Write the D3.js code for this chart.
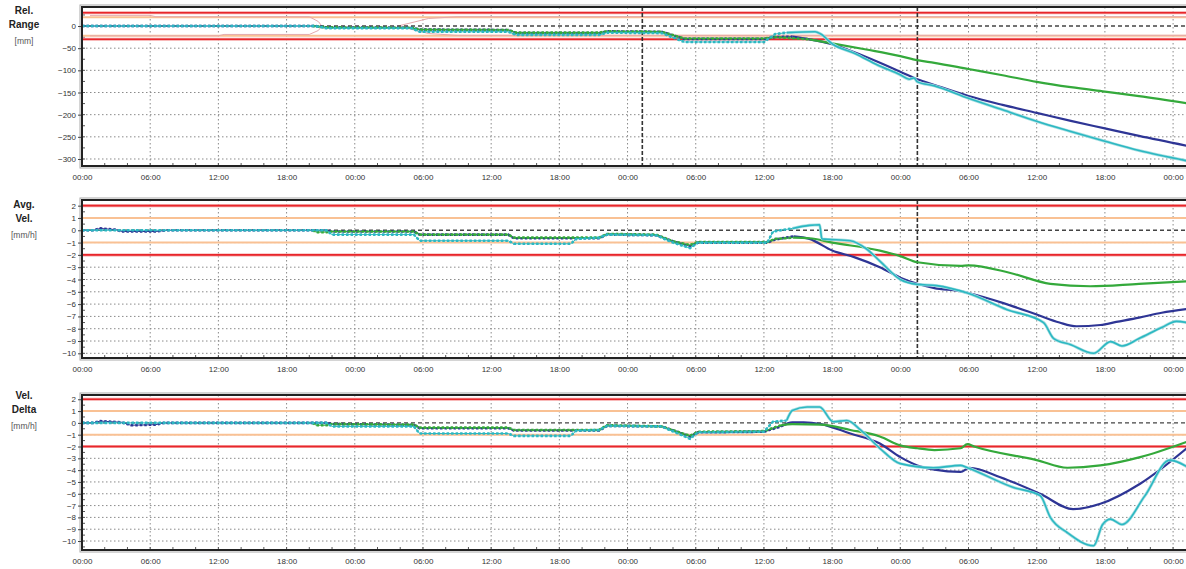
<!DOCTYPE html>
<html>
<head>
<meta charset="utf-8">
<script src="https://cdn.jsdelivr.net/npm/d3@7"></script>
<style>
  body { margin: 0; background: #fff; }
  text { font-family: "Liberation Sans", Arial, sans-serif; }
</style>
</head>
<body>
<div id="chart"></div>
<script>
// Chart size
var svgWidth = 1186;
var svgHeight = 569;

// Time axis, hours since the first 00:00
var hourTicks = d3.range(0, 97, 6);
var minorHourTicks = d3.range(0, 98, 2);
var markers = [49.3, 73.5];

// Rel. Range [mm] - [hour, value]
var rangeBlue = [[0,0],[20.5,0],[21.5,-3],[29,-4],[29.7,-8],[37.5,-9],[38.2,-16],[45.5,-16],[46.2,-12],[51,-13],[53,-29],[60,-29],[61,-25],[62.5,-24],[64,-30],[66,-41],[69,-70],[72,-103],[73.5,-120],[75,-133],[78,-158],[81,-178],[84,-196],[87,-214],[90,-231],[93,-248],[97.2,-270]];
var rangeCyan = [[0,0],[20.5,0],[21.5,-5],[29,-5],[29.7,-13],[37.5,-13],[38.2,-20],[45.5,-20],[46.2,-15],[51,-16],[53,-36],[60,-36],[61,-18],[62,-15],[64.5,-13],[65,-18],[66,-40],[68,-62],[70,-88],[72,-110],[72.8,-120],[73.2,-117],[73.5,-126],[75,-135],[78,-163],[81,-189],[84,-215],[87,-238],[90,-260],[93,-281],[97.2,-304]];
var rangeGreen = [[20.3,0],[21.5,-3],[29,-4],[29.7,-8],[37.5,-9],[38.2,-15],[45.5,-15],[46.2,-12],[51,-13],[53,-28],[60,-28],[61,-25],[64,-30],[66,-39],[69,-53],[72,-68],[73.5,-77],[75,-83],[78,-97],[81,-111],[84,-126],[87,-138],[90,-148],[93,-158],[97.2,-174]];
var rangeEnvUpper = [[[0.7,24],[6,24],[6.5,21],[20,21],[20.8,10],[21.1,0]], [[27.8,0],[30.5,17],[33,21],[97.2,21]]];
var rangeEnvLower = [[[0.7,-22],[12,-22],[12.5,-19],[20,-19],[20.8,-10],[21.1,0]], [[27.8,0],[30.5,-17],[33,-21],[97.2,-21]]];

// Avg. Vel. [mm/h]
var velBlue = [[0,0],[1,0],[1.6,0.15],[3,0.05],[3.5,-0.1],[6.5,-0.1],[7.5,0],[21.5,0],[22,-0.1],[29.2,-0.1],[29.7,-0.35],[37.5,-0.35],[38,-0.65],[45.5,-0.65],[46.2,-0.35],[50.5,-0.4],[52,-0.9],[53.5,-1.3],[54.2,-1.0],[60.3,-1.0],[61,-0.75],[62.6,-0.5],[64,-0.7],[66,-1.65],[68,-2.2],[70.2,-3.0],[72,-3.85],[73.5,-4.35],[75,-4.7],[77.3,-4.95],[78,-5.1],[81,-5.9],[84,-6.85],[86,-7.5],[87.5,-7.8],[89.6,-7.7],[91,-7.45],[93,-7.1],[95,-6.7],[97.2,-6.4]];
var velCyan = [[0,0],[21.5,0],[22,-0.35],[29.2,-0.35],[29.7,-0.85],[37.5,-0.85],[38,-1.1],[43,-1.1],[43.5,-0.7],[45.5,-0.6],[46.2,-0.35],[50.5,-0.4],[52,-1.0],[53.5,-1.45],[54.2,-1.0],[60.3,-1.0],[60.8,-0.1],[62.5,0.15],[64,0.4],[64.9,0.45],[65.1,-0.7],[67.6,-0.85],[69,-1.5],[70.2,-2.5],[72,-4.0],[73.5,-4.4],[75.2,-4.5],[77.9,-5.1],[81.4,-6.45],[84.6,-7.5],[85.5,-8.8],[87,-9.3],[89,-10],[90.5,-9.05],[91.5,-9.4],[93,-8.8],[95,-7.9],[96.3,-7.4],[97.2,-7.5]];
var velGreen = [[20.3,0],[20.6,-0.15],[21.5,-0.15],[22,-0.1],[29.2,-0.1],[29.7,-0.35],[37.5,-0.35],[38,-0.6],[45.5,-0.6],[46.2,-0.3],[50.5,-0.35],[52,-0.9],[53.5,-1.2],[54.2,-0.95],[60.3,-0.95],[61,-0.7],[62.6,-0.6],[64,-0.65],[66,-1.0],[70.2,-1.65],[72,-2.1],[73.5,-2.6],[77.3,-2.9],[78,-2.85],[81.6,-3.45],[85.2,-4.35],[88.7,-4.55],[93,-4.35],[97.2,-4.15]];

// Vel. Delta [mm/h]
var deltaBlue = [[0,0],[1,0],[1.6,0.15],[3.5,0.05],[4.3,-0.2],[6.5,-0.15],[7.2,0],[21.5,0],[22,-0.1],[29.2,-0.17],[29.7,-0.45],[37.5,-0.45],[38,-0.65],[45.5,-0.65],[46.2,-0.25],[51,-0.3],[53.5,-1.15],[54.2,-0.8],[60,-0.75],[61.5,-0.3],[62.5,0.05],[63.5,0.05],[65,-0.1],[67.6,-0.9],[70.2,-1.75],[72,-2.9],[73.5,-3.6],[75,-3.95],[77.3,-4.15],[78.1,-3.8],[80.8,-4.6],[84.3,-6.0],[87.2,-7.3],[89.6,-6.85],[93.1,-5.15],[97.2,-2.15]];
var deltaCyan = [[0,0],[21.5,0],[22,-0.3],[29.2,-0.3],[29.7,-0.9],[37.5,-0.9],[38,-1.1],[43,-1.1],[43.5,-0.65],[45.5,-0.6],[46.2,-0.25],[51,-0.3],[53.5,-1.35],[54.2,-0.8],[60,-0.75],[60.8,0.1],[62,0.2],[62.5,1.05],[63.8,1.35],[64.9,1.35],[66.1,0.1],[67.3,0.2],[68.5,-0.6],[70.2,-2.15],[72,-3.45],[74.9,-3.8],[77.3,-3.6],[77.9,-3.8],[81.9,-5.45],[84.3,-6.15],[85.2,-8.0],[86.7,-9.3],[89,-10.4],[89.8,-8.6],[90.5,-8.15],[91.5,-8.6],[93.5,-6.2],[95.7,-3.15],[97.2,-3.7]];
var deltaGreen = [[20.3,0],[20.6,-0.2],[21.5,-0.2],[22,-0.1],[29.2,-0.15],[29.7,-0.4],[37.5,-0.4],[38,-0.6],[45.5,-0.6],[46.2,-0.2],[51,-0.3],[53.5,-1.1],[54.2,-0.75],[60,-0.7],[61.5,-0.2],[62.5,-0.1],[65,-0.15],[67.6,-0.6],[70.2,-1.15],[72,-1.9],[73.5,-2.15],[75,-2.3],[77.3,-2.15],[77.9,-1.8],[78.5,-2.0],[84,-3.15],[86.7,-3.8],[89.6,-3.6],[93.1,-2.9],[97.2,-1.6]];

// Y ticks and limits
var rangeTicks = [0, -50, -100, -150, -200, -250, -300];
var velTicks = d3.range(2, -11, -1);
var rangeAlarm = [30, -30];
var rangeWarn = [20, -22];
var velAlarm = [2, -2];
var velWarn = [1, -1];

var colors = { blue: "#2e3595", cyan: "#2cb8c2", green: "#34a93b" };

// Panels
var panels = [
  { title: ["Rel.", "Range"], unit: "[mm]", top: 7, bottom: 166, labelY: 14, domain: [-315.8, 42.9], ticks: rangeTicks, minor: 25,
    blue: rangeBlue, cyan: rangeCyan, green: rangeGreen, alarm: rangeAlarm, warn: rangeWarn, markers: markers, env: true },
  { title: ["Avg.", "Vel."], unit: "[mm/h]", top: 200, bottom: 358, labelY: 208, domain: [-10.38, 2.46], ticks: velTicks, minor: 0.5,
    blue: velBlue, cyan: velCyan, green: velGreen, alarm: velAlarm, warn: velWarn, markers: [markers[1]] },
  { title: ["Vel.", "Delta"], unit: "[mm/h]", top: 395, bottom: 550, labelY: 399, domain: [-10.76, 2.36], ticks: velTicks, minor: 0.5,
    blue: deltaBlue, cyan: deltaCyan, green: deltaGreen, alarm: velAlarm, warn: velWarn, markers: [] }
];

var plotLeft = 82;
var plotRight = 1189;

var svg = d3.select("#chart")
  .append("svg")
  .attr("width", svgWidth)
  .attr("height", svgHeight);

var x = d3.scaleLinear().domain([0, 97.4]).range([plotLeft, plotRight]);

function fmtHour(h) {
  return d3.format("02")(h % 24) + ":00";
}

panels.forEach(function(p, i) {
  var y = d3.scaleLinear().domain(p.domain).range([p.bottom, p.top]);
  var g = svg.append("g");

  // clip to plot area
  var clipId = "clip" + i;
  svg.append("clipPath").attr("id", clipId)
    .append("rect")
    .attr("x", plotLeft).attr("y", p.top)
    .attr("width", plotRight - plotLeft).attr("height", p.bottom - p.top);

  // title on the left
  p.title.forEach(function(t, k) {
    g.append("text")
      .attr("x", 24).attr("y", p.labelY + k * 14)
      .attr("text-anchor", "middle")
      .style("font-size", "10px").style("font-weight", "bold").style("fill", "#222")
      .text(t);
  });
  g.append("text")
    .attr("x", 24).attr("y", p.labelY + 30)
    .attr("text-anchor", "middle")
    .style("font-size", "8.5px").style("fill", "#555")
    .text(p.unit);

  var plot = g.append("g").attr("clip-path", "url(#" + clipId + ")");

  // dotted grid
  plot.selectAll(".vgrid").data(hourTicks).enter().append("line")
    .attr("x1", d => x(d)).attr("x2", d => x(d))
    .attr("y1", p.top).attr("y2", p.bottom)
    .attr("stroke", "#8a8a8a").attr("stroke-width", 1).attr("stroke-dasharray", "1.5,2.5");
  plot.selectAll(".hgrid").data(p.ticks.filter(d => d !== 0)).enter().append("line")
    .attr("x1", plotLeft).attr("x2", plotRight)
    .attr("y1", d => y(d)).attr("y2", d => y(d))
    .attr("stroke", "#8a8a8a").attr("stroke-width", 1).attr("stroke-dasharray", "1.5,2.5");

  // minor ticks inside the frame
  plot.selectAll(".mx").data(minorHourTicks).enter().append("line")
    .attr("x1", d => x(d)).attr("x2", d => x(d))
    .attr("y1", p.bottom - 3).attr("y2", p.bottom)
    .attr("stroke", "#555");
  var yMinor = d3.range(Math.ceil(p.domain[0] / p.minor) * p.minor, p.domain[1], p.minor);
  plot.selectAll(".my").data(yMinor).enter().append("line")
    .attr("x1", plotLeft).attr("x2", plotLeft + 3)
    .attr("y1", d => y(d)).attr("y2", d => y(d))
    .attr("stroke", "#555");

  // limit lines
  p.warn.forEach(function(v) {
    plot.append("line")
      .attr("x1", plotLeft).attr("x2", plotRight).attr("y1", y(v)).attr("y2", y(v))
      .attr("stroke", "#f9c194").attr("stroke-width", 2);
  });
  p.alarm.forEach(function(v) {
    plot.append("line")
      .attr("x1", plotLeft).attr("x2", plotRight).attr("y1", y(v)).attr("y2", y(v))
      .attr("stroke", "#f6a3a3").attr("stroke-width", 3);
    plot.append("line")
      .attr("x1", plotLeft).attr("x2", plotRight).attr("y1", y(v)).attr("y2", y(v))
      .attr("stroke", "#e8262b").attr("stroke-width", 1.6);
  });

  var line = d3.line().x(d => x(d[0])).y(d => y(d[1]));
  var smooth = d3.line().x(d => x(d[0])).y(d => y(d[1])).curve(d3.curveMonotoneX);

  // envelope of the warning band (top panel only)
  if (p.env) {
    rangeEnvUpper.concat(rangeEnvLower).forEach(function(seg) {
      plot.append("path").datum(seg).attr("d", line)
        .attr("fill", "none").attr("stroke", "#e4a9ad").attr("stroke-width", 1);
    });
  }

  // zero line
  plot.append("line")
    .attr("x1", plotLeft).attr("x2", plotRight).attr("y1", y(0)).attr("y2", y(0))
    .attr("stroke", "#444").attr("stroke-width", 1.3).attr("stroke-dasharray", "4,3");

  // event markers
  p.markers.forEach(function(h) {
    plot.append("line")
      .attr("x1", x(h)).attr("x2", x(h)).attr("y1", p.top).attr("y2", p.bottom)
      .attr("stroke", "#333").attr("stroke-width", 1.6).attr("stroke-dasharray", "4,2");
  });

  // series: sparse early part looks dotted, dense late part solid
  ["blue", "green", "cyan"].forEach(function(key) {
    var pts = p[key];
    var cut = pts.findIndex(d => d[0] > 61);
    var early = pts.slice(0, cut + 1);
    var late = pts.slice(cut);
    plot.append("path").datum(early).attr("d", line)
      .attr("fill", "none").attr("stroke", colors[key]).attr("stroke-width", 1);
    plot.append("path").datum(early).attr("d", line)
      .attr("fill", "none").attr("stroke", colors[key]).attr("stroke-width", 2.6)
      .attr("stroke-dasharray", "2.5,2");
    if (key === "cyan") {
      plot.append("path").datum(late).attr("d", smooth)
        .attr("fill", "none").attr("stroke", "#a8dfe2").attr("stroke-width", 3);
    }
    plot.append("path").datum(late).attr("d", smooth)
      .attr("fill", "none").attr("stroke", colors[key]).attr("stroke-width", key === "cyan" ? 1.6 : 2.2);
  });

  // frame
  g.append("rect")
    .attr("x", plotLeft - 2).attr("y", p.top - 2)
    .attr("width", plotRight - plotLeft + 4).attr("height", p.bottom - p.top + 4)
    .attr("fill", "none").attr("stroke", "#aaa").attr("stroke-width", 1);
  g.append("rect")
    .attr("x", plotLeft).attr("y", p.top)
    .attr("width", plotRight - plotLeft).attr("height", p.bottom - p.top)
    .attr("fill", "none").attr("stroke", "#222").attr("stroke-width", 2);

  // axes
  var leftAxis = d3.axisLeft(y).tickValues(p.ticks).tickSize(3).tickPadding(2);
  var yAxis = g.append("g").attr("transform", "translate(" + (plotLeft - 1) + ",0)").call(leftAxis);
  var bottomAxis = d3.axisBottom(x).tickValues(hourTicks).tickFormat(fmtHour).tickSize(0).tickPadding(7);
  var xAxis = g.append("g").attr("transform", "translate(0," + (p.bottom + 1) + ")").call(bottomAxis);
  [yAxis, xAxis].forEach(function(a) {
    a.select(".domain").remove();
    a.selectAll("text").style("font-size", "8px").style("fill", "#333")
      .style("font-family", "'Liberation Sans', Arial, sans-serif");
    a.selectAll("line").attr("stroke", "#444");
  });
});
</script>
</body>
</html>
